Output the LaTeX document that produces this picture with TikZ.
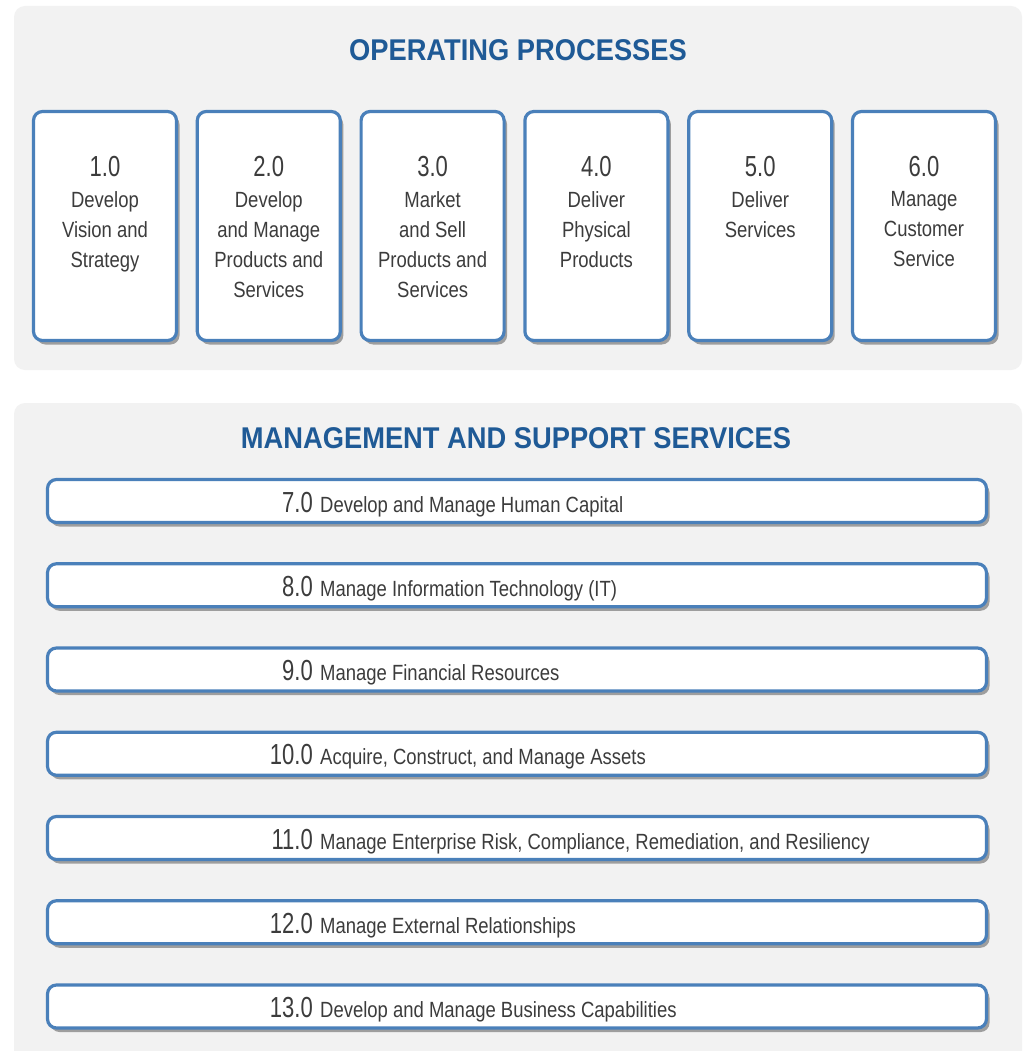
\documentclass[tikz,border=0pt]{standalone}
\usepackage{fontspec}
\setmainfont{Liberation Sans}
\newfontfamily\headfont[FakeStretch=0.91]{Liberation Sans}
\newfontfamily\numfont[FakeStretch=0.76]{Liberation Sans}
\newfontfamily\bodyfont[FakeStretch=0.84]{Liberation Sans}
\usetikzlibrary{shadows}
\definecolor{panelgray}{HTML}{F2F2F2}
\definecolor{edgeblue}{HTML}{4A80BA}
\definecolor{titleblue}{HTML}{1F5A96}
\definecolor{textgray}{HTML}{3C3C3C}

\begin{document}
\begin{tikzpicture}[x=1pt,y=-1pt,
  panel/.style={fill=panelgray, draw=none, rounded corners=11pt},
  headline/.style={text=titleblue, font=\headfont\bfseries\fontsize{30}{32}\selectfont, inner sep=0pt},
  softshadow/.style={drop shadow={shadow xshift=3pt, shadow yshift=-4pt, opacity=0.6, fill=black!60}},
  procbox/.style={draw=edgeblue, line width=3.2pt, fill=white, rounded corners=9pt,
    minimum width=143pt, minimum height=229pt, inner sep=0pt, softshadow},
  rowbox/.style={draw=edgeblue, line width=3.2pt, fill=white, rounded corners=9pt,
    minimum width=939pt, minimum height=43pt, inner sep=0pt, softshadow},
  numtext/.style={text=textgray, font=\numfont\fontsize{29}{30}\selectfont, inner sep=0pt},
  bodytext/.style={text=textgray, font=\bodyfont\fontsize{22}{30}\selectfont, inner sep=0pt, align=center},
  rowtext/.style={text=textgray, font=\bodyfont\fontsize{22}{24}\selectfont, inner sep=0pt}
]
\useasboundingbox (0,0) rectangle (1025,1051);
\fill[white] (0,0) rectangle (1025,1051);

% background panels
\path[panel] (14,6) rectangle (1022,370);
\path[panel] (14,403) rectangle (1022,1075);

% operating processes
\node[headline] (ophead) at (518,50) {OPERATING PROCESSES};

\foreach \i/\n/\txt in {
  0/1.0/{Develop\\Vision and\\Strategy},
  1/2.0/{Develop\\and Manage\\Products and\\Services},
  2/3.0/{Market\\and Sell\\Products and\\Services},
  3/4.0/{Deliver\\Physical\\Products},
  4/5.0/{Deliver\\Services},
  5/6.0/{Manage\\Customer\\Service}} {
  \node[procbox] (op\i) at ({105+163.8*\i},226) {};
  \node[numtext, anchor=base] (opnum\i) at ({105+163.8*\i},177) {\n};
  \node[bodytext, anchor=north] (optxt\i) at ({105+163.8*\i},191) {\txt};
}

% management and support services
\node[headline] (mshead) at (516,438) {MANAGEMENT AND SUPPORT SERVICES};

\foreach \i/\n/\txt in {
  0/7.0/{Develop and Manage Human Capital},
  1/8.0/{Manage Information Technology (IT)},
  2/9.0/{Manage Financial Resources},
  3/10.0/{Acquire, Construct, and Manage Assets},
  4/11.0/{Manage Enterprise Risk, Compliance, Remediation, and Resiliency},
  5/12.0/{Manage External Relationships},
  6/13.0/{Develop and Manage Business Capabilities}} {
  \node[rowbox] (ms\i) at (517,{501+84.25*\i}) {};
  \node[numtext, anchor=base east] (msnum\i) at (313,{512+84.25*\i}) {\n};
  \node[rowtext, anchor=base west] (mstxt\i) at (320,{512+84.25*\i}) {\txt};
}
\end{tikzpicture}
\end{document}
